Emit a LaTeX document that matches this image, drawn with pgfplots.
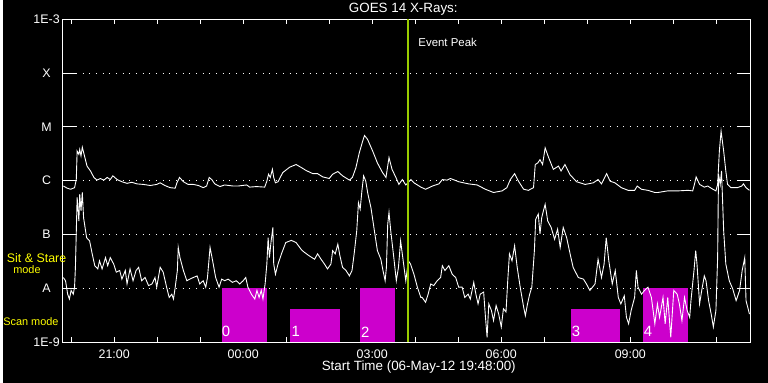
\documentclass[border=0pt]{standalone}
\usepackage{fontspec}
\setmainfont{Liberation Sans}
\usepackage{pgfplots}
\usepackage{pgfplotstable}
\pgfplotsset{compat=1.18}
\definecolor{mag}{RGB}{204,0,204}
\definecolor{peak}{RGB}{153,204,0}
\definecolor{ylw}{RGB}{255,255,0}
% long channel (1-8 A), x: hours since 19:48 UT, y: log10 flux
\pgfplotstableread{
h L
0.02 -6.10
0.11 -6.14
0.19 -6.16
0.28 -6.13
0.32 -5.98
0.34 -5.45
0.38 -5.51
0.40 -5.42
0.43 -5.54
0.46 -5.38
0.51 -5.54
0.57 -5.73
0.65 -5.82
0.73 -5.94
0.80 -5.99
0.88 -5.96
0.96 -5.99
1.04 -5.94
1.11 -5.98
1.17 -5.91
1.27 -5.98
1.38 -6.02
1.50 -6.05
1.61 -6.03
1.73 -6.06
1.88 -6.07
2.04 -6.09
2.19 -6.07
2.27 -6.04
2.38 -6.09
2.50 -6.13
2.62 -6.14
2.66 -6.04
2.72 -5.94
2.81 -6.02
2.92 -6.07
3.04 -6.07
3.16 -6.09
3.27 -6.13
3.35 -6.10
3.41 -5.94
3.47 -5.98
3.54 -6.06
3.66 -6.11
3.77 -6.08
3.97 -6.10
4.08 -6.10
4.28 -6.08
4.35 -6.12
4.51 -6.11
4.70 -6.12
4.75 -6.01
4.79 -5.88
4.83 -5.94
4.88 -5.79
4.91 -5.94
4.95 -6.04
5.01 -6.02
5.12 -5.85
5.28 -5.75
5.43 -5.70
5.56 -5.76
5.66 -5.81
5.82 -5.87
5.93 -5.87
6.05 -5.93
6.20 -5.96
6.28 -5.88
6.40 -5.83
6.51 -5.91
6.67 -5.99
6.74 -5.94
6.82 -5.76
6.90 -5.48
6.98 -5.26
7.02 -5.16
7.09 -5.23
7.21 -5.45
7.32 -5.67
7.44 -5.85
7.52 -5.94
7.59 -5.57
7.66 -5.79
7.75 -5.94
7.82 -6.07
7.90 -5.98
7.98 -6.08
8.10 -5.98
8.17 -6.04
8.33 -6.12
8.44 -6.16
8.60 -6.10
8.75 -6.06
8.83 -5.98
8.94 -5.99
9.02 -5.96
9.21 -6.02
9.44 -6.06
9.64 -6.08
9.83 -6.16
10.02 -6.22
10.22 -6.19
10.33 -6.13
10.41 -5.98
10.51 -5.87
10.60 -6.01
10.72 -6.16
10.83 -6.18
10.95 -6.13
10.99 -5.70
11.05 -5.67
11.10 -5.61
11.16 -5.70
11.22 -5.39
11.30 -5.57
11.41 -5.79
11.53 -5.73
11.59 -5.82
11.68 -5.70
11.80 -5.89
11.95 -6.02
12.15 -6.07
12.34 -6.04
12.45 -5.98
12.53 -6.06
12.65 -5.87
12.73 -6.01
12.84 -6.04
12.99 -6.13
13.15 -6.18
13.30 -6.18
13.36 -6.10
13.46 -6.16
13.61 -6.18
13.77 -6.22
13.84 -6.22
14.07 -6.19
14.31 -6.19
14.54 -6.18
14.65 -6.19
14.69 -6.07
14.73 -5.93
14.81 -6.07
14.92 -6.12
15.00 -6.10
15.12 -6.16
15.19 -6.19
15.23 -6.07
15.27 -5.45
15.31 -5.08
15.37 -5.45
15.42 -5.82
15.46 -6.07
15.54 -6.13
15.69 -6.13
15.79 -6.10
15.83 -6.06
15.89 -6.13
15.97 -6.18
}\longch
% short channel (0.5-4 A)
\pgfplotstableread{
h L
0.02 -7.80
0.07 -7.86
0.12 -8.11
0.16 -8.20
0.20 -8.04
0.25 -8.11
0.28 -7.98
0.30 -7.61
0.34 -6.31
0.38 -6.75
0.40 -6.25
0.43 -6.56
0.46 -6.22
0.49 -6.69
0.56 -7.06
0.63 -7.12
0.69 -7.36
0.75 -7.58
0.82 -7.64
0.86 -7.49
0.92 -7.64
1.00 -7.43
1.05 -7.58
1.11 -7.43
1.19 -7.55
1.25 -7.70
1.33 -7.67
1.38 -7.83
1.46 -7.67
1.50 -7.92
1.57 -7.64
1.64 -7.86
1.71 -7.67
1.77 -7.61
1.84 -7.86
1.92 -7.80
2.00 -7.95
2.08 -7.92
2.15 -7.80
2.19 -7.98
2.27 -7.61
2.34 -7.70
2.42 -7.98
2.48 -8.17
2.54 -8.11
2.58 -8.20
2.62 -7.98
2.67 -7.67
2.69 -7.24
2.73 -7.43
2.81 -7.67
2.89 -7.86
2.96 -7.83
3.04 -7.80
3.13 -7.77
3.19 -7.92
3.27 -7.86
3.33 -7.98
3.37 -7.80
3.43 -7.24
3.49 -7.49
3.56 -7.80
3.64 -7.98
3.70 -7.83
3.77 -7.86
3.85 -7.83
3.95 -7.89
4.04 -7.86
4.12 -7.92
4.20 -7.86
4.26 -7.80
4.31 -7.98
4.39 -8.11
4.47 -8.20
4.52 -8.04
4.57 -8.17
4.62 -8.04
4.66 -8.20
4.71 -7.92
4.75 -7.55
4.78 -7.06
4.81 -7.43
4.85 -7.12
4.89 -6.87
4.91 -7.55
4.95 -7.74
5.01 -7.55
5.09 -7.36
5.19 -7.15
5.32 -7.11
5.43 -7.15
5.56 -7.29
5.62 -7.33
5.74 -7.40
5.86 -7.46
5.93 -7.36
6.01 -7.46
6.09 -7.55
6.16 -7.64
6.24 -7.55
6.28 -7.30
6.34 -7.36
6.40 -7.18
6.45 -7.40
6.51 -7.61
6.59 -7.67
6.67 -7.77
6.73 -7.67
6.78 -7.36
6.84 -6.93
6.88 -6.41
6.92 -6.53
6.96 -6.19
7.00 -5.91
7.05 -6.01
7.10 -6.25
7.17 -6.50
7.25 -6.93
7.32 -7.30
7.40 -7.46
7.45 -7.67
7.50 -7.86
7.53 -7.61
7.56 -6.81
7.59 -6.59
7.63 -6.93
7.71 -7.49
7.76 -7.86
7.81 -7.61
7.86 -7.12
7.92 -7.49
7.98 -7.86
8.04 -7.49
8.09 -7.55
8.17 -7.74
8.25 -7.98
8.33 -8.17
8.36 -8.17
8.44 -8.26
8.50 -8.11
8.56 -7.92
8.63 -7.95
8.71 -7.86
8.79 -7.80
8.83 -7.58
8.89 -7.67
8.98 -7.58
9.06 -7.74
9.14 -7.80
9.21 -7.98
9.29 -7.98
9.35 -8.17
9.43 -8.11
9.48 -8.20
9.56 -7.89
9.61 -8.11
9.66 -8.29
9.71 -8.11
9.79 -8.07
9.83 -8.51
9.87 -8.91
9.91 -8.29
9.97 -8.41
10.02 -8.60
10.08 -8.32
10.14 -8.48
10.20 -8.72
10.25 -8.38
10.31 -8.44
10.35 -7.86
10.39 -7.36
10.45 -7.49
10.51 -7.21
10.57 -7.61
10.64 -7.98
10.72 -8.35
10.76 -8.51
10.81 -8.29
10.86 -8.11
10.91 -7.98
10.97 -7.30
11.00 -6.72
11.06 -6.62
11.10 -6.99
11.14 -6.69
11.18 -6.56
11.22 -6.44
11.28 -6.75
11.36 -6.87
11.44 -7.09
11.51 -6.90
11.57 -7.24
11.64 -6.87
11.72 -7.06
11.80 -7.36
11.87 -7.61
11.99 -7.80
12.11 -7.83
12.18 -7.92
12.26 -8.04
12.38 -7.92
12.45 -7.46
12.53 -7.80
12.59 -7.55
12.64 -7.06
12.70 -7.49
12.78 -7.92
12.85 -7.67
12.92 -8.17
12.98 -8.29
13.06 -8.14
13.11 -8.54
13.16 -8.66
13.22 -8.41
13.30 -8.17
13.34 -7.67
13.38 -7.98
13.46 -8.11
13.53 -8.04
13.61 -7.98
13.69 -8.17
13.77 -8.66
13.83 -8.29
13.88 -8.54
13.96 -8.17
14.01 -8.66
14.07 -8.17
14.14 -8.91
14.21 -8.04
14.29 -8.11
14.34 -8.29
14.40 -8.60
14.46 -8.17
14.52 -8.41
14.58 -8.54
14.61 -8.23
14.68 -7.67
14.72 -7.30
14.75 -7.55
14.81 -8.29
14.86 -8.04
14.92 -7.77
14.96 -7.86
15.02 -8.23
15.08 -8.48
15.13 -8.72
15.19 -8.41
15.23 -7.43
15.25 -5.88
15.29 -6.07
15.32 -5.82
15.37 -6.93
15.42 -7.55
15.50 -7.86
15.58 -8.01
15.66 -8.23
15.74 -8.04
15.80 -7.67
15.86 -7.43
15.89 -8.23
15.97 -8.48
}\shortch
\begin{document}
\begin{tikzpicture}[font=\fontsize{11}{13}\selectfont]
\fill[black] (0bp,0bp) rectangle (768bp,384bp);
\begin{axis}[
  at={(60bp,40.7bp)}, anchor=south west,
  scale only axis, width=690.7bp, height=324bp,
  xmin=0, xmax=16, ymin=-9, ymax=-3,
  axis line style={white, line width=1bp},
  tick align=inside,
  xtick pos=both, ytick pos=both,
  xtick={1.2,4.2,7.2,10.2,13.2},
  xticklabels={21:00,00:00,03:00,06:00,09:00},
  minor xtick={0.2,2.2,3.2,5.2,6.2,8.2,9.2,11.2,12.2,14.2,15.2},
  major tick length=5bp, minor tick length=5bp,
  every tick/.style={white, line width=1bp},
  ytick={-9,-8,-7,-6,-5,-4,-3},
  yticklabels={1E-9,A,B,C,M,X,1E-3},
  ytick style={/pgfplots/major tick length=14bp},
  ymajorgrids,
  major grid style={white, line width=1bp, dash pattern=on 1bp off 5.7bp},
  xticklabel style={white, anchor=center, yshift=-11.7bp, font=\fontsize{12.5}{14}\selectfont},
  yticklabel style={white, anchor=center, xshift=-16bp, font=\fontsize{12.5}{14}\selectfont},
  /pgf/number format/assume math mode=true,
  clip=false,
]
\addplot[fill=mag, draw=none] coordinates {(3.70,-9) (3.70,-8) (4.75,-8) (4.75,-9)} --cycle;
\addplot[fill=mag, draw=none] coordinates {(5.30,-9) (5.30,-8.38) (6.46,-8.38) (6.46,-9)} --cycle;
\addplot[fill=mag, draw=none] coordinates {(6.92,-9) (6.92,-8) (7.73,-8) (7.73,-9)} --cycle;
\addplot[fill=mag, draw=none] coordinates {(11.83,-9) (11.83,-8.38) (12.96,-8.38) (12.96,-9)} --cycle;
\addplot[fill=mag, draw=none] coordinates {(13.50,-9) (13.50,-8) (14.54,-8) (14.54,-9)} --cycle;
\addplot[white, line width=0.9bp] table[x=h, y=L] {\longch};
\addplot[white, line width=0.9bp] table[x=h, y=L] {\shortch};
\addplot[peak, line width=2bp] coordinates {(8.03,-9) (8.03,-3)};
\node[white, font=\fontsize{15}{17}\selectfont] at (axis cs:3.80,-8.81) {0};
\node[white, font=\fontsize{15}{17}\selectfont] at (axis cs:5.42,-8.81) {1};
\node[white, font=\fontsize{15}{17}\selectfont] at (axis cs:7.04,-8.81) {2};
\node[white, font=\fontsize{15}{17}\selectfont] at (axis cs:11.94,-8.81) {3};
\node[white, font=\fontsize{15}{17}\selectfont] at (axis cs:13.61,-8.81) {4};
\end{axis}
\node[white, font=\fontsize{13.5}{15}\selectfont] at (402bp,374.5bp) {GOES 14 X-Rays:};
\node[white, anchor=west, inner sep=0pt, font=\fontsize{11.5}{13}\selectfont] at (417bp,341.5bp) {Event Peak};
\node[white, font=\fontsize{13.5}{15}\selectfont] at (417.5bp,16bp) {Start Time (06-May-12 19:48:00)};
\node[ylw, font=\fontsize{12.5}{14}\selectfont] at (34bp,125bp) {Sit \& Stare};
\node[ylw] at (24.3bp,113bp) {mode};
\node[ylw] at (28.3bp,61bp) {Scan mode};
\end{tikzpicture}
\end{document}
